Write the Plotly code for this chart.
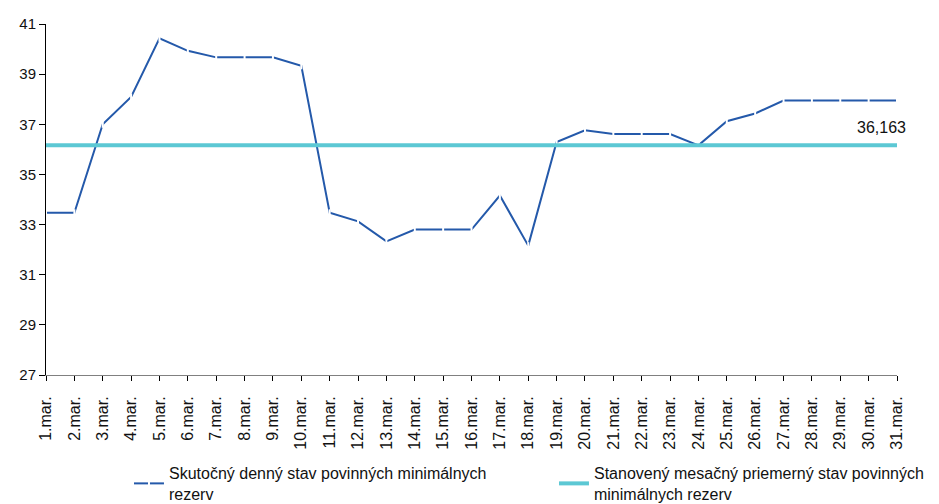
import plotly.graph_objects as go

# March days (x categories)
days = [f"{d}.mar." for d in range(1, 32)]

actual = [33.47, 33.47, 37.00, 38.09, 40.43, 39.93, 39.67, 39.67, 39.67, 39.33,
          33.47, 33.13, 32.33, 32.80, 32.80, 32.80, 34.16, 32.16, 36.29, 36.76,
          36.61, 36.61, 36.61, 36.16, 37.12, 37.43, 37.95, 37.95, 37.95, 37.95,
          37.95]

# Set monthly average requirement
required = 36.163
required_line = [required] * len(days)

actual_name = "Skutočný denný stav povinných minimálnych<br>rezerv"
required_name = "Stanovený mesačný priemerný stav povinných<br>minimálnych rezerv"

font_family = "Arial, Liberation Sans, sans-serif"

fig = go.Figure()

fig.add_trace(go.Scatter(
    x=days, y=actual, name=actual_name, mode="lines+markers",
    line=dict(color="#2459aa", width=2),
    marker=dict(symbol="line-ns", size=5, line=dict(color="white", width=2)),
))

fig.add_trace(go.Scatter(
    x=days, y=required_line, name=required_name, mode="lines",
    line=dict(color="#5cc8d4", width=4),
))

fig.add_annotation(
    x=days[-1], y=required, text="36,163", showarrow=False,
    xshift=-16, yshift=18, font=dict(size=16, color="#111111"),
)

fig.update_xaxes(
    type="category", range=[0, len(days) - 1],
    tickangle=-90, ticks="outside", ticklen=5, tickcolor="#000000",
    ticklabelstandoff=9,
    showline=True, linecolor="#808080", linewidth=1,
    showgrid=False, tickfont=dict(size=16, color="#111111"),
)

fig.update_yaxes(
    range=[27, 41], tick0=27, dtick=2, ticks="outside", ticklen=6,
    tickcolor="#000000", showline=True, linecolor="#000000", linewidth=1,
    showgrid=False, zeroline=False, tickfont=dict(size=15, color="#111111"),
)

# page body adds an 8px margin, so the figure is 8px smaller than the window
fig.update_layout(
    width=931, height=496,
    margin=dict(l=38, r=42, t=16, b=129, autoexpand=False),
    plot_bgcolor="white", paper_bgcolor="white",
    font=dict(family=font_family, size=16, color="#111111"),
    showlegend=True,
    legend=dict(
        orientation="h", x=0.0975, y=-0.231, xanchor="left", yanchor="top",
        entrywidth=380, entrywidthmode="pixels",
        font=dict(size=16), tracegroupgap=0,
    ),
)

fig.write_html("out.html")
